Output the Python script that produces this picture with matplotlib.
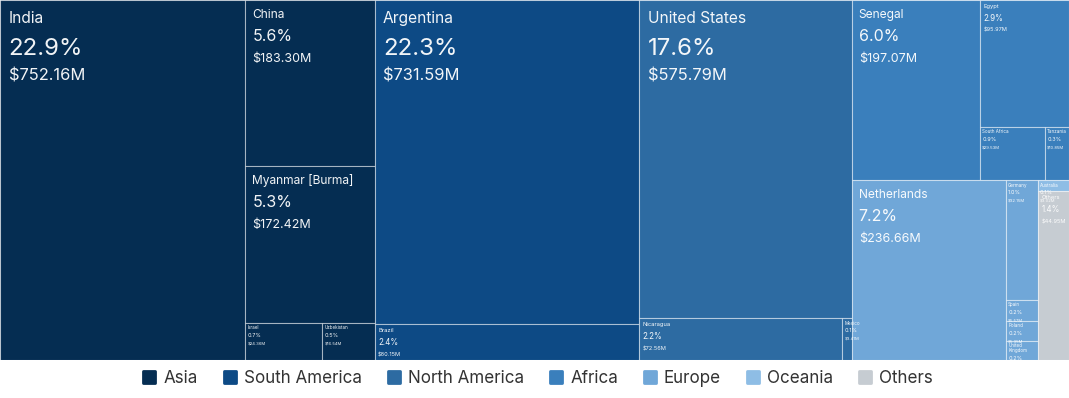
import matplotlib
matplotlib.use("Agg")
import matplotlib.pyplot as plt
from matplotlib.patches import Rectangle
from matplotlib.lines import Line2D
from matplotlib.markers import MarkerStyle

plt.rcParams['font.family'] = ['Inter', 'DejaVu Sans']

# continents in drawing order, with their countries
continents = ["Asia", "South America", "North America", "Africa", "Europe", "Oceania", "Others"]
colors = ["#052d52", "#0d4a85", "#2d6ba2", "#3a7fbc", "#70a7d8", "#8ebde5", "#c6ccd2"]

asia_names = ["India", "China", "Myanmar [Burma]", "Israel", "Uzbekistan"]
asia_vals = [752.16, 183.30, 172.42, 24.36, 16.54]
samerica_names = ["Argentina", "Brazil"]
samerica_vals = [731.59, 80.15]
namerica_names = ["United States", "Nicaragua", "Mexico"]
namerica_vals = [575.79, 72.56, 3.41]
africa_names = ["Senegal", "Egypt", "South Africa", "Tanzania"]
africa_vals = [197.07, 95.97, 29.53, 10.85]
europe_names = ["Netherlands", "Germany", "Spain", "Poland", "United Kingdom"]
europe_vals = [236.66, 32.15, 5.57, 5.35, 5.20]
oceania_names = ["Australia"]
oceania_vals = [3.02]
others_names = ["Others"]
others_vals = [44.95]

groups = [
    (asia_names, asia_vals),
    (samerica_names, samerica_vals),
    (namerica_names, namerica_vals),
    (africa_names, africa_vals),
    (europe_names, europe_vals),
    (oceania_names, oceania_vals),
    (others_names, others_vals),
]

W, H = 1069, 360


def worst(row, side):
    s = sum(row)
    return max(max(side * side * r / (s * s), s * s / (side * side * r)) for r in row)


def squarify(areas, x, y, w, h):
    rects = []
    areas = list(areas)
    while areas:
        short = min(w, h)
        row = [areas[0]]
        i = 1
        while i < len(areas) and worst(row + [areas[i]], short) <= worst(row, short):
            row.append(areas[i])
            i += 1
        s = sum(row)
        if w >= h:
            cw = s / h
            yy = y
            for a in row:
                rh = a / cw
                rects.append((x, yy, cw, rh))
                yy += rh
            x += cw
            w -= cw
        else:
            rh = s / w
            xx = x
            for a in row:
                rw = a / rh
                rects.append((xx, y, rw, rh))
                xx += rw
            y += rh
            h -= rh
        areas = areas[i:]
    return rects


total = sum(sum(v) for _, v in groups)
scale = W * H / total

fig = plt.figure(figsize=(10.69, 3.98), dpi=100)
ax = fig.add_axes([0, 38 / 398, 1, 360 / 398])
ax.set_xlim(0, W)
ax.set_ylim(H, 0)
ax.axis("off")

# text tiers: (pct size px, name px, value px, pad x, name/pct/value baselines in pct-size units)
TIERS = [
    (24, 15.5, 16.5, 8.5, (0.95, 2.3, 3.35)),
    (16, 12, 12.5, 7, (1.1, 2.55, 3.85)),
    (8, 5.8, 5.6, 3.5, (1.0, 2.6, 4.0)),
    (5.5, 4.5, 4.2, 2, (1.18, 2.55, 3.9)),
]


def tier(p, top_level):
    k = 0 if p >= 10 else 1 if p >= 5 else 2 if p >= 2 else 3
    if top_level:
        k = max(k - 1, 0)
    return TIERS[k]

px = 0.72  # px -> pt at 100 dpi

group_rects = squarify([sum(v) * scale for _, v in groups], 0, 0, W, H)
for gname, (names, vals), (gx, gy, gw, gh), col in zip(continents, groups, group_rects, colors):
    leaf = squarify([v * scale for v in vals], gx, gy, gw, gh)
    for name, v, (x, y, w, h) in zip(names, vals, leaf):
        r = Rectangle((x, y), w, h, facecolor=col, edgecolor=(1, 1, 1, 0.45), linewidth=0.8)
        ax.add_patch(r)
        p = v / total * 100
        fp, fn, fv, pad, (b1, b2, b3) = tier(p, name == gname)
        lines = [name]
        if len(name) * fn * 0.55 > w - pad:
            lines = name.split(" ")
        step = fn * 1.15
        extra = step * (len(lines) - 1)
        items = [(s, fn, y + b1 * fp + i * step) for i, s in enumerate(lines)]
        items += [(f"{p:.1f}%", fp, y + b2 * fp + extra), (f"${v:.2f}M", fv, y + b3 * fp + extra)]
        for s, fs, by in items:
            t = ax.text(x + pad, by, s, fontsize=fs * px, color="white", alpha=0.95,
                        va="baseline", ha="left")
            t.set_clip_path(r)

handles = [Line2D([], [], linestyle="none", marker=MarkerStyle("s", joinstyle="round"),
                  markersize=8, markerfacecolor=c, markeredgecolor=c, markeredgewidth=2)
           for c in colors]
fig.legend(handles, continents, loc="center", bbox_to_anchor=(0.503, 0.048), ncol=7,
           frameon=False, fontsize=12.25, handlelength=0.8, handletextpad=0.45,
           columnspacing=1.45, labelcolor="#333333")

fig.savefig("out.png", dpi=100)
